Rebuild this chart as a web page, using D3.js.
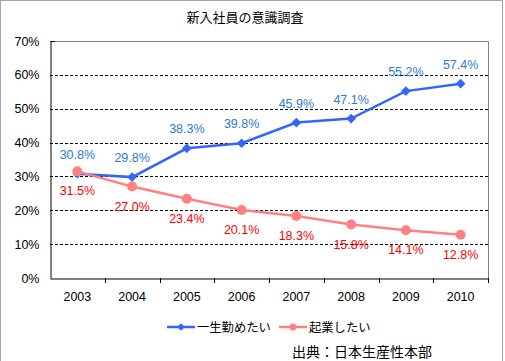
<!DOCTYPE html>
<html>
<head>
<meta charset="utf-8">
<script src="https://cdn.jsdelivr.net/npm/d3@7"></script>
<style>
  body { margin: 0; background: #fff; }
  text { font-family: "Liberation Sans", Arial, sans-serif; }
</style>
</head>
<body>
<div id="plot"></div>
<script>
const years = ["2003", "2004", "2005", "2006", "2007", "2008", "2009", "2010"];
const stayLife = [30.8, 29.8, 38.3, 39.8, 45.9, 47.1, 55.2, 57.4];   // 一生勤めたい
const startBiz = [31.5, 27.0, 23.4, 20.1, 18.3, 15.8, 14.1, 12.8];   // 起業したい
const yTicks = [0, 10, 20, 30, 40, 50, 60, 70];

const W = 505, H = 361;
const margin = {top: 41, right: 17, bottom: 83, left: 50},
  width = W - margin.left - margin.right,
  height = H - margin.top - margin.bottom;

const svg = d3.select("#plot").append("svg")
  .attr("width", W).attr("height", H);

// outer frame
svg.append("rect").attr("x", 0.5).attr("y", 0.5).attr("width", 502).attr("height", H + 5)
  .attr("fill", "none").attr("stroke", "#a6a6a6");

svg.append("text").attr("x", 245).attr("y", 22).attr("text-anchor", "middle")
  .style("font-size", "13px").style("font-family", "'Noto Sans CJK JP', sans-serif")
  .text("新入社員の意識調査");

const g = svg.append("g").attr("transform", `translate(${margin.left},${margin.top})`);

const x = d3.scaleBand().domain(years).range([0, width]);
const y = d3.scaleLinear().domain([0, 70]).range([height, 0]);

// plot frame (top/right gray)
g.append("path").attr("d", `M0.5,0.5H${width + 0.5}V${height}`)
  .attr("fill", "none").attr("stroke", "#808080");

// grid lines
g.selectAll(".grid").data(yTicks.filter(d => d > 0 && d < 70)).join("line")
  .attr("x1", 0).attr("x2", width)
  .attr("y1", d => Math.round(y(d)) + 0.5).attr("y2", d => Math.round(y(d)) + 0.5)
  .attr("stroke", "#000").attr("stroke-dasharray", "3,2");

// y axis
const yAxis = g.append("g").attr("transform", "translate(0.5,0)")
  .call(d3.axisLeft(y).tickValues(yTicks).tickFormat(d => d + "%").tickSize(0).tickPadding(11));
yAxis.select(".domain").attr("stroke", "#000");
yAxis.selectAll("text").style("font-size", "12.5px").attr("fill", "#000");
g.append("line").attr("x1", 0.5).attr("x2", 5).attr("y1", 0.5).attr("y2", 0.5).attr("stroke", "#000");

// x axis
const xAxis = g.append("g").attr("transform", `translate(0,${height + 0.5})`)
  .call(d3.axisBottom(x).tickSize(0).tickPadding(14));
xAxis.select(".domain").attr("stroke", "#000");
xAxis.selectAll("text").style("font-size", "12.5px").attr("fill", "#000");
g.selectAll(".xtick").data(years.slice(1).concat(["end"])).join("line")
  .attr("x1", (d, i) => Math.round(x.step() * (i + 1)) + 0.5)
  .attr("x2", (d, i) => Math.round(x.step() * (i + 1)) + 0.5)
  .attr("y1", height).attr("y2", height + 5).attr("stroke", "#000");

const cx = d => x(d) + x.bandwidth() / 2;
const line = d3.line().x(d => cx(d[0])).y(d => y(d[1]));

const blue = "#3366ff", blueText = "#2a7ad8", red = "#ff8080", redText = "#ff0000";

const stayData = years.map((yr, i) => [yr, stayLife[i]]);
const bizData = years.map((yr, i) => [yr, startBiz[i]]);

g.append("path").datum(stayData).attr("d", line)
  .attr("fill", "none").attr("stroke", blue).attr("stroke-width", 2.5);
g.append("path").datum(bizData).attr("d", line)
  .attr("fill", "none").attr("stroke", red).attr("stroke-width", 2.5);

const diamond = d3.symbol().type(d3.symbolDiamond2).size(60);
g.selectAll(".dia").data(stayData).join("path")
  .attr("d", diamond)
  .attr("transform", d => `translate(${cx(d[0])},${y(d[1])})`)
  .attr("fill", blue);
g.selectAll(".dot").data(bizData).join("circle")
  .attr("cx", d => cx(d[0])).attr("cy", d => y(d[1])).attr("r", 5)
  .attr("fill", red);

g.selectAll(".lblB").data(stayData).join("text")
  .attr("x", d => cx(d[0])).attr("y", d => y(d[1]) - 15)
  .attr("text-anchor", "middle").style("font-size", "12.5px").attr("fill", blueText)
  .text(d => d[1].toFixed(1) + "%");
g.selectAll(".lblR").data(bizData).join("text")
  .attr("x", d => cx(d[0])).attr("y", d => y(d[1]) + 24)
  .attr("text-anchor", "middle").style("font-size", "12.5px").attr("fill", redText)
  .text(d => d[1].toFixed(1) + "%");

// legend
const legend = [
  {name: "一生勤めたい", color: blue, x: 167, shape: "d"},
  {name: "起業したい", color: red, x: 279, shape: "c"}
];
const ly = 327;
legend.forEach(l => {
  svg.append("line").attr("x1", l.x).attr("x2", l.x + 28).attr("y1", ly).attr("y2", ly)
    .attr("stroke", l.color).attr("stroke-width", 2.5);
  if (l.shape === "d") {
    svg.append("path").attr("d", d3.symbol().type(d3.symbolDiamond2).size(35))
      .attr("transform", `translate(${l.x + 14},${ly})`).attr("fill", l.color);
  } else {
    svg.append("circle").attr("cx", l.x + 14).attr("cy", ly).attr("r", 3.5).attr("fill", l.color);
  }
  svg.append("text").attr("x", l.x + 30).attr("y", ly + 4.5)
    .style("font-size", "12.3px").style("font-family", "'Noto Sans CJK JP', sans-serif")
    .text(l.name);
});

svg.append("text").attr("x", 292).attr("y", 357)
  .style("font-size", "14px").style("font-family", "'Noto Sans CJK JP', sans-serif")
  .text("出典：日本生産性本部");
</script>
</body>
</html>
